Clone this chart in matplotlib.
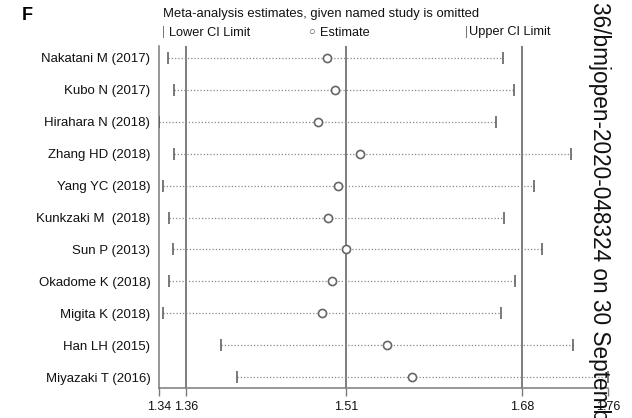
import matplotlib
matplotlib.use("Agg")
import matplotlib.pyplot as plt

plt.rcParams['font.family'] = ['Liberation Sans', 'DejaVu Sans']

studies = ["Nakatani M (2017)", "Kubo N (2017)", "Hirahara N (2018)", "Zhang HD (2018)",
           "Yang YC (2018)", "Kunkzaki M  (2018)", "Sun P (2013)", "Okadome K (2018)",
           "Migita K (2018)", "Han LH (2015)", "Miyazaki T (2016)"]
lower = [1.3471, 1.3527, 1.3390, 1.3531, 1.3429, 1.3478, 1.3517, 1.3477, 1.3422, 1.3961, 1.4110]
est = [1.4947, 1.5024, 1.4869, 1.5257, 1.5052, 1.4957, 1.5130, 1.4994, 1.4906, 1.5511, 1.5738]
upper = [1.6590, 1.6690, 1.6519, 1.7217, 1.6876, 1.6599, 1.6947, 1.6699, 1.6566, 1.7241, 1.7567]
overall = [1.3638, 1.5124, 1.6764]  # lower CI, estimate, upper CI of pooled result

W, H = 632, 418
fig = plt.figure(figsize=(W / 100, H / 100), dpi=100)
ax = fig.add_axes([159.3 / W, (H - 388.3) / H, (608.3 - 159.3) / W, (388.3 - 46) / H])

n = len(studies)
ypos = [n - 1 - i for i in range(n)]

for yl, lo, e, hi in zip(ypos, lower, est, upper):
    ax.plot([lo, hi], [yl, yl], linestyle=(0, (1, 1.6)), color='#8a8a8a', lw=0.9, zorder=2)
ax.scatter(lower, ypos, marker='|', s=70, color='#555555', linewidths=1.1, zorder=3)
ax.scatter(upper, ypos, marker='|', s=70, color='#555555', linewidths=1.1, zorder=3)
ax.scatter(est, ypos, marker='o', s=34, facecolors='white', edgecolors='#666666',
           linewidths=1.2, zorder=4)

for v in overall:
    ax.axvline(v, color='#5a5a5a', lw=1.1, zorder=1)

xmin, xmax = min(lower), max(upper)
ax.set_xlim(xmin, xmax)
ax.set_ylim(-0.354, n - 1 + 0.376)
ticks = [xmin] + overall + [xmax]
ax.set_xticks(ticks)
ax.set_xticklabels([f"{t:.2f}" for t in ticks])
ax.set_yticks(ypos)
ax.set_yticklabels(studies)
ax.tick_params(axis='y', length=0, pad=6.5, labelsize=9.5, labelcolor='#111111')
ax.tick_params(axis='x', length=6, width=1.0, color='#7a7a7a', pad=3,
               labelsize=9, labelcolor='#111111')

for s in ['top', 'right']:
    ax.spines[s].set_visible(False)
for s in ['left', 'bottom']:
    ax.spines[s].set_color('#7a7a7a')
    ax.spines[s].set_linewidth(1.1)

# header texts
fig.text(22 / W, 1 - 15 / H, "F", fontsize=13, fontweight='bold', va='center', ha='left')
fig.text(163 / W, 1 - 14 / H, "Meta-analysis estimates, given named study is omitted",
         fontsize=9.35, va='center', ha='left', color='#111111')
fig.text(162 / W, 1 - 32.5 / H, "|", fontsize=8.5, va='center', ha='left', color='#777777')
fig.text(169 / W, 1 - 32.5 / H, "Lower CI Limit", fontsize=9.2, va='center', ha='left', color='#111111')
fig.text(311.5 / W, 1 - 32.5 / H, "\u25CB", fontsize=8, va='center', ha='center', color='#555555')
fig.text(320 / W, 1 - 32.5 / H, "Estimate", fontsize=9.2, va='center', ha='left', color='#111111')
fig.text(465 / W, 1 - 32.5 / H, "|", fontsize=8.5, va='center', ha='left', color='#777777')
fig.text(469 / W, 1 - 32.5 / H, "Upper CI Limit", fontsize=9.2, va='center', ha='left', color='#111111')

# page watermark running down the right edge
fig.text(599 / W, 1 - 2 / H, "36/bmjopen-2020-048324 on 30 September",
         fontsize=16.3, rotation=270, va='top', ha='center', color='#111111')

fig.savefig("out.png", dpi=100)
